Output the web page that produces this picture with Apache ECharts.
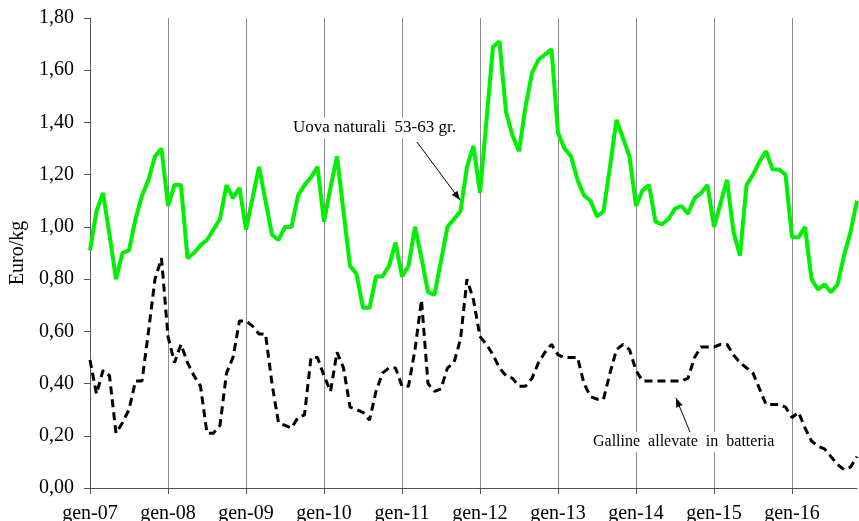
<!DOCTYPE html>
<html>
<head>
<meta charset="utf-8">
<script src="https://cdn.jsdelivr.net/npm/echarts@6/dist/echarts.min.js"></script>
<style>
  html, body { margin: 0; padding: 0; background: #fff; }
  #chart { width: 859px; height: 521px; }
</style>
</head>
<body>
<div id="chart"></div>
<script>
// mesi e anni (gen-07 ... nov-16)
var mesi = ['gen', 'feb', 'mar', 'apr', 'mag', 'giu', 'lug', 'ago', 'set', 'ott', 'nov', 'dic'];
var anni = ['07', '08', '09', '10', '11', '12', '13', '14', '15', '16'];

// Uova naturali 53-63 gr. (Euro/kg)
var uova = [
  0.91, 1.06, 1.13, 0.97, 0.80, 0.90, 0.91, 1.03, 1.12, 1.18, 1.27, 1.30,
  1.08, 1.16, 1.16, 0.88, 0.90, 0.93, 0.95, 0.99, 1.03, 1.16, 1.11, 1.15,
  0.99, 1.11, 1.23, 1.10, 0.97, 0.95, 1.00, 1.00, 1.12, 1.16, 1.19, 1.23,
  1.02, 1.15, 1.27, 1.06, 0.85, 0.82, 0.69, 0.69, 0.81, 0.81, 0.85, 0.94,
  0.81, 0.85, 1.00, 0.88, 0.75, 0.74, 0.87, 1.00, 1.03, 1.06, 1.23, 1.31,
  1.13, 1.41, 1.69, 1.71, 1.44, 1.35, 1.29, 1.46, 1.59, 1.64, 1.66, 1.68,
  1.36, 1.30, 1.27, 1.18, 1.12, 1.10, 1.04, 1.06, 1.23, 1.41, 1.34, 1.27,
  1.08, 1.14, 1.16, 1.02, 1.01, 1.03, 1.07, 1.08, 1.05, 1.11, 1.13, 1.16,
  1.00, 1.09, 1.18, 0.98, 0.89, 1.16, 1.20, 1.25, 1.29, 1.22, 1.22, 1.20,
  0.96, 0.96, 1.00, 0.80, 0.76, 0.78, 0.75, 0.78, 0.89, 0.98, 1.10
];

// Galline allevate in batteria (Euro/kg)
var galline = [
  0.49, 0.36, 0.45, 0.43, 0.21, 0.25, 0.30, 0.41, 0.41, 0.60, 0.80, 0.88,
  0.58, 0.48, 0.55, 0.48, 0.43, 0.39, 0.21, 0.21, 0.24, 0.44, 0.50, 0.64,
  0.64, 0.62, 0.59, 0.59, 0.40, 0.25, 0.24, 0.23, 0.27, 0.28, 0.50, 0.50,
  0.43, 0.37, 0.52, 0.46, 0.31, 0.30, 0.29, 0.26, 0.37, 0.44, 0.46, 0.46,
  0.39, 0.39, 0.53, 0.72, 0.40, 0.37, 0.38, 0.46, 0.48, 0.57, 0.80, 0.72,
  0.58, 0.55, 0.51, 0.46, 0.43, 0.42, 0.39, 0.39, 0.42, 0.48, 0.52, 0.55,
  0.51, 0.50, 0.50, 0.50, 0.40, 0.35, 0.34, 0.34, 0.44, 0.53, 0.55, 0.53,
  0.45, 0.41, 0.41, 0.41, 0.41, 0.41, 0.41, 0.41, 0.42, 0.50, 0.54, 0.54,
  0.54, 0.55, 0.55, 0.51, 0.48, 0.46, 0.44, 0.38, 0.32, 0.32, 0.32, 0.31,
  0.27, 0.29, 0.23, 0.18, 0.16, 0.15, 0.12, 0.09, 0.07, 0.08, 0.12
];

var categorie = [];
for (var a = 0; a < anni.length; a++) {
  for (var m = 0; m < 12; m++) {
    if (categorie.length < uova.length) categorie.push(mesi[m] + '-' + anni[a]);
  }
}

var serif = '"Liberation Serif", "Times New Roman", serif';
var ogniAnno = function (index) { return index % 12 === 0; };

// freccia: linea + punta piena
function freccia(x1, y1, x2, y2) {
  var ang = Math.atan2(y2 - y1, x2 - x1), L = 9, W = 3.5;
  var c = Math.cos(ang), s = Math.sin(ang);
  return [{
    type: 'line', z: 20,
    shape: { x1: x1, y1: y1, x2: x2, y2: y2 },
    style: { stroke: '#000', lineWidth: 1 }
  }, {
    type: 'polygon', z: 20,
    shape: { points: [[x2, y2], [x2 - L * c + W * s, y2 - L * s - W * c], [x2 - L * c - W * s, y2 - L * s + W * c]] },
    style: { fill: '#000' }
  }];
}

var myChart = echarts.init(document.getElementById('chart'));

var option = {
  animation: false,
  backgroundColor: '#fff',
  grid: { left: 90, right: 2, top: 18, bottom: 33, containLabel: false, outerBoundsMode: 'none' },
  xAxis: {
    type: 'category',
    data: categorie,
    boundaryGap: false,
    axisLine: { show: true, lineStyle: { color: '#555', width: 1 } },
    axisTick: { show: true, interval: ogniAnno, length: 6, lineStyle: { color: '#555' } },
    axisLabel: { interval: ogniAnno, margin: 16, color: '#000', fontFamily: serif, fontSize: 20 },
    splitLine: { show: true, interval: ogniAnno, lineStyle: { color: '#8c8c8c', width: 1 } }
  },
  yAxis: {
    type: 'value',
    min: 0,
    max: 1.8,
    interval: 0.2,
    name: 'Euro/kg',
    nameLocation: 'middle',
    nameRotate: 90,
    nameGap: 60,
    nameTextStyle: { color: '#000', fontFamily: serif, fontSize: 20 },
    axisLine: { show: true, lineStyle: { color: '#555', width: 1 } },
    axisTick: { show: true, length: 6, lineStyle: { color: '#555' } },
    axisLabel: {
      margin: 16, color: '#000', fontFamily: serif, fontSize: 20,
      formatter: function (v) { return v.toFixed(2).replace('.', ','); }
    },
    splitLine: { show: false }
  },
  series: [{
    name: 'Uova naturali 53-63 gr.',
    type: 'line',
    data: uova,
    symbol: 'none',
    lineStyle: { color: '#00f000', width: 4 },
    z: 3
  }, {
    name: 'Galline allevate in batteria',
    type: 'line',
    data: galline,
    symbol: 'none',
    lineStyle: { color: '#000', width: 3, type: [8, 5] },
    z: 2
  }],
  graphic: [{
    type: 'text', z: 19,
    style: {
      text: 'Uova naturali  53-63 gr.', x: 290, y: 128,
      verticalAlign: 'middle', align: 'left',
      font: '17px ' + serif, fill: '#000',
      backgroundColor: '#fff', padding: [2, 3]
    }
  }, {
    type: 'text', z: 19,
    style: {
      text: 'Galline  allevate  in  batteria', x: 590, y: 442,
      verticalAlign: 'middle', align: 'left',
      font: '16px ' + serif, fill: '#000',
      backgroundColor: '#fff', padding: [2, 3]
    }
  }].concat(freccia(417, 142, 460, 200), freccia(690, 432, 676, 398))
};

myChart.setOption(option);
</script>
</body>
</html>
